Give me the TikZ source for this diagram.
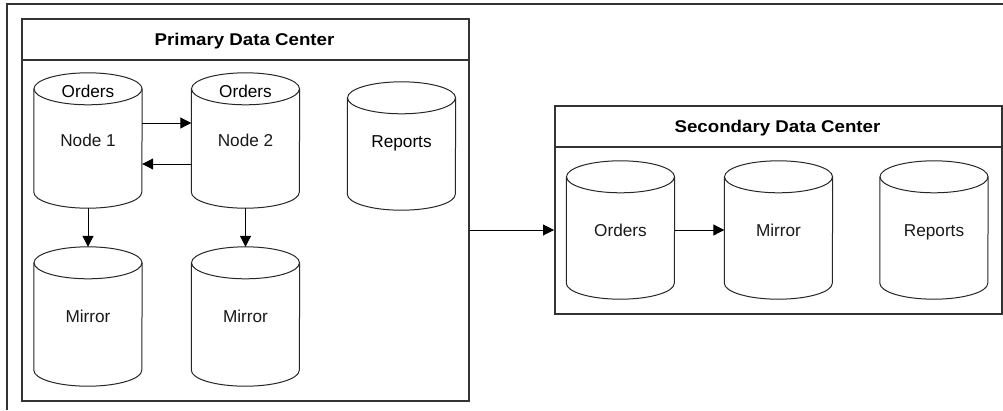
\documentclass[tikz,border=0pt]{standalone}
\usepackage{fontspec}
\setmainfont{Liberation Sans}
\usetikzlibrary{arrows.meta}

% draws a database cylinder around a (borderless) rectangular node
\newcommand\dbshape[1]{%
  \draw[cylline] ([yshift=-16pt]#1.north west) -- ([yshift=16pt]#1.south west)
    arc[start angle=180, end angle=360, x radius=54pt, y radius=16pt]
    -- ([yshift=-16pt]#1.north east);
  \draw[cylline] ([yshift=-16pt]#1.north) ellipse [x radius=54pt, y radius=16pt];
}

\begin{document}
\begin{tikzpicture}[x=1pt, y=-1pt,
  every node/.style={font=\fontsize{17.2}{19}\selectfont, inner sep=0pt,
    text height=12.3pt, text depth=0pt},
  cyl/.style={minimum width=108pt, text=black!90},
  cylline/.style={line width=1pt, black!85},
  frameline/.style={line width=1.4pt, black!80},
  boxline/.style={line width=1.6pt, black!80},
  title/.style={font=\fontsize{17}{20}\selectfont\bfseries},
  arr/.style={line width=1pt, -{Triangle[length=11pt, width=11pt]}},
]
\useasboundingbox (0,0) rectangle (1003,410);

% outer frame (only the top and left edges fall inside the page)
\coordinate (fr0) at (1003,4);
\coordinate (fr1) at (7,4);
\coordinate (fr2) at (7,410);
\draw[frameline] (fr0) -- (fr1) -- (fr2);

% primary data center
\node[draw, boxline, minimum width=447pt, minimum height=382pt, anchor=north west] (pdc) at (21,18) {};
\coordinate (phl) at (21,60);
\coordinate (phr) at (468,60);
\draw[boxline] (phl) -- (phr);
\node[title] (pdct) at (244.5,39) {\scalebox{1.1}[1]{Primary Data Center}};

\node[cyl, minimum height=135pt] (n1) at (88,140.5) {Node 1};
\node[cyl, minimum height=135pt] (n2) at (245.5,140.5) {Node 2};
\node (n1o) at (88,91) {Orders};
\node (n2o) at (245.5,91) {Orders};
\node[cyl, minimum height=128pt] (prep) at (401.5,146) {};
\node (prept) at (401.5,141) {Reports};
\node[cyl, minimum height=139pt] (m1) at (88,316.5) {Mirror};
\node[cyl, minimum height=139pt] (m2) at (245.5,316.5) {Mirror};
\dbshape{n1}
\dbshape{n2}
\dbshape{prep}
\dbshape{m1}
\dbshape{m2}

\draw[arr] ([yshift=17.5pt]n1.east) -- ([yshift=17.5pt]n2.west);
\draw[arr] ([yshift=-23.5pt]n2.west) -- ([yshift=-23.5pt]n1.east);
\draw[arr] (n1.south) -- (m1.north);
\draw[arr] (n2.south) -- (m2.north);

% secondary data center
\node[draw, boxline, minimum width=447pt, minimum height=208pt, anchor=north west] (sdc) at (554,105) {};
\coordinate (shl) at (554,147);
\coordinate (shr) at (1001,147);
\draw[boxline] (shl) -- (shr);
\node[title] (sdct) at (777.5,126) {\scalebox{1.1}[1]{Secondary Data Center}};

\node[cyl, minimum height=138pt] (so) at (620.5,230) {Orders};
\node[cyl, minimum height=138pt] (sm) at (778.5,230) {Mirror};
\node[cyl, minimum height=138pt] (sr) at (934,230) {Reports};
\dbshape{so}
\dbshape{sm}
\dbshape{sr}

\draw[arr] (so.east) -- (sm.west);
\draw[arr] (pdc.east |- so.center) -- (sdc.west |- so.center);
\end{tikzpicture}
\end{document}
